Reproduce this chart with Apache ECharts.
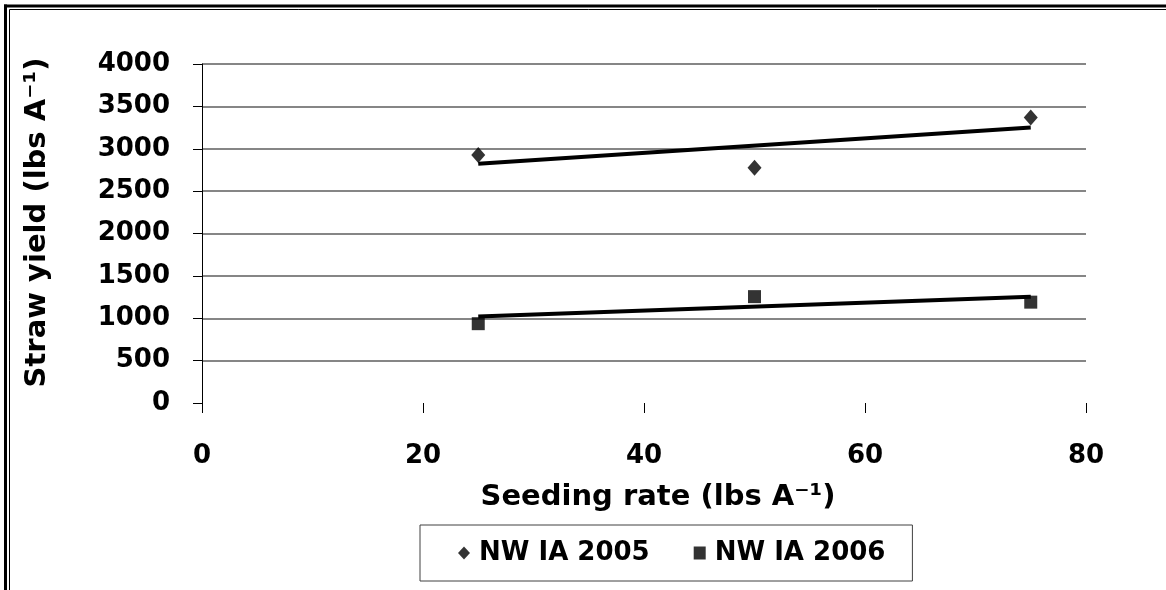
<!DOCTYPE html>
<html>
<head>
<meta charset="utf-8">
<script src="https://cdn.jsdelivr.net/npm/echarts@6/dist/echarts.min.js"></script>
<style>
  html, body { margin: 0; padding: 0; background: #fff; }
  #chart { width: 1166px; height: 590px; }
</style>
</head>
<body>
<div id="chart"></div>
<script>
// ---- data ----
const seedingRate = [25, 50, 75];
const yield2005 = [2925, 2775, 3370];
const yield2006 = [936, 1255, 1190];
// linear trend lines (end points)
const trendX = [25, 75];
const trend2005 = [2822, 3250];
const trend2006 = [1022, 1255];
const seriesNames = ['NW IA 2005', 'NW IA 2006'];
const xTicks = { min: 0, max: 80, interval: 20 };
const yTicks = { min: 0, max: 4000, interval: 500 };

const FONT = 'DejaVu Sans';
const pairs = (xs, ys) => xs.map((x, i) => [x, ys[i]]);

const chart = echarts.init(document.getElementById('chart'), null, { renderer: 'canvas' });
chart.setOption({
  animation: false,
  backgroundColor: '#ffffff',
  grid: { left: 202, right: 80, top: 64, bottom: 187, containLabel: false },
  xAxis: {
    type: 'value',
    min: xTicks.min, max: xTicks.max, interval: xTicks.interval,
    axisLine: { show: false },
    axisTick: { show: true, length: 10, inside: false, lineStyle: { color: '#000', width: 1 } },
    splitLine: { show: false },
    axisLabel: { margin: 40, color: '#000', fontFamily: FONT, fontWeight: 'bold', fontSize: 26,
                 formatter: v => String(v) },
    name: 'Seeding rate (lbs A\u207B\u00B9)',
    nameLocation: 'middle',
    nameGap: 80,
    nameTextStyle: { color: '#000', fontFamily: FONT, fontWeight: 'bold', fontSize: 29, padding: [0, 0, 0, 28] }
  },
  yAxis: {
    type: 'value',
    min: yTicks.min, max: yTicks.max, interval: yTicks.interval,
    axisLine: { show: true, lineStyle: { color: '#000', width: 1 } },
    axisTick: { show: true, length: 9, inside: false, lineStyle: { color: '#000', width: 1 } },
    splitLine: { show: true, showMinLine: false, lineStyle: { color: '#5e5e5e', width: 1.5 } },
    axisLabel: { margin: 32, color: '#000', fontFamily: FONT, fontWeight: 'bold', fontSize: 26,
                 formatter: v => String(v) },
    name: 'Straw yield (lbs A\u207B\u00B9)',
    nameLocation: 'middle',
    nameRotate: 90,
    nameGap: 150,
    nameTextStyle: { color: '#000', fontFamily: FONT, fontWeight: 'bold', fontSize: 29, padding: [0, 0, 0, 22] }
  },
  legend: {
    data: seriesNames,
    left: 420, top: 525,
    orient: 'horizontal',
    padding: [15, 27, 15, 38],
    itemGap: 44,
    itemWidth: 12, itemHeight: 13,
    borderColor: '#404040', borderWidth: 1,
    backgroundColor: '#fff',
    textStyle: { color: '#000', fontFamily: FONT, fontWeight: 'bold', fontSize: 26, padding: [0, 0, 0, 4] }
  },
  series: [
    {
      name: seriesNames[0], type: 'scatter', symbol: 'diamond', symbolSize: [14, 16],
      itemStyle: { color: '#000' }, data: pairs(seedingRate, yield2005), z: 5
    },
    {
      name: seriesNames[1], type: 'scatter', symbol: 'rect', symbolSize: 13,
      itemStyle: { color: '#000' }, data: pairs(seedingRate, yield2006), z: 5
    },
    {
      name: 'trend2005', type: 'line', symbol: 'none', silent: true,
      lineStyle: { color: '#000', width: 4 }, data: pairs(trendX, trend2005), z: 4
    },
    {
      name: 'trend2006', type: 'line', symbol: 'none', silent: true,
      lineStyle: { color: '#000', width: 4 }, data: pairs(trendX, trend2006), z: 4
    }
  ],
  graphic: [
    { type: 'line', shape: { x1: 4, y1: 6, x2: 1180, y2: 6 }, style: { stroke: '#000', lineWidth: 3 } },
    { type: 'line', shape: { x1: 9.5, y1: 9.5, x2: 1180, y2: 9.5 }, style: { stroke: '#000', lineWidth: 1 } },
    { type: 'line', shape: { x1: 5.5, y1: 4.5, x2: 5.5, y2: 600 }, style: { stroke: '#000', lineWidth: 3 } },
    { type: 'line', shape: { x1: 9.5, y1: 9.5, x2: 9.5, y2: 600 }, style: { stroke: '#000', lineWidth: 1 } }
  ]
});
</script>
</body>
</html>
